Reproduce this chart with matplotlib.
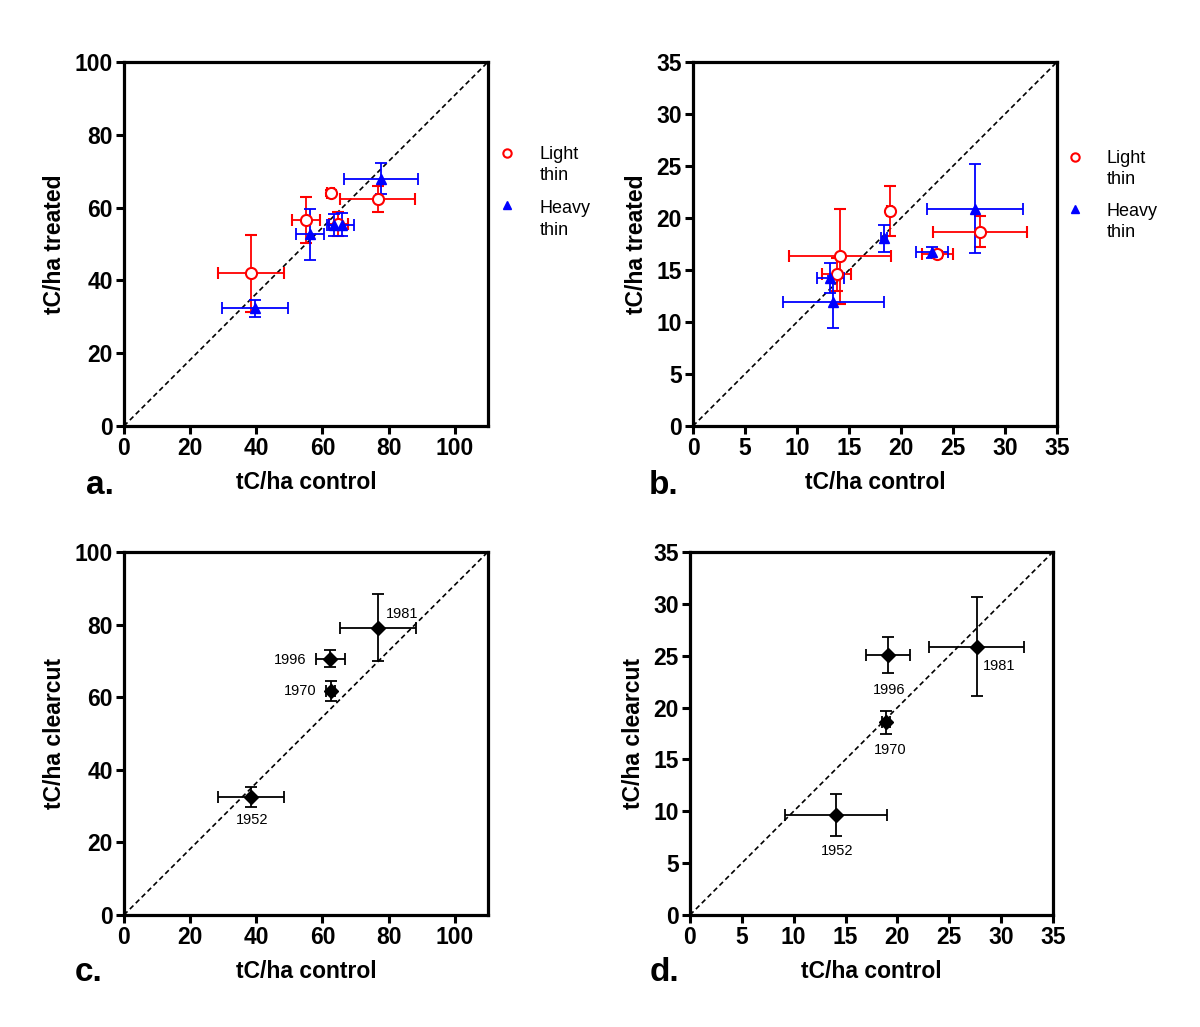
import matplotlib
matplotlib.use('Agg')
import matplotlib.pyplot as plt

plt.rcParams['font.family'] = ['Liberation Sans', 'DejaVu Sans']

# ---- panel a: total carbon, thinning treatments vs control ----
a_light_x = [38.4, 55.0, 62.5, 76.7, 64.8]
a_light_xerr = [10.0, 4.2, 1.0, 11.4, 2.8]
a_light_y = [41.9, 56.6, 64.0, 62.4, 55.5]
a_light_yerr = [10.6, 6.4, 0.8, 3.6, 3.4]

a_heavy_x = [39.7, 56.2, 63.5, 77.7, 65.8]
a_heavy_xerr = [10.0, 4.2, 2.0, 11.2, 3.8]
a_heavy_y = [32.3, 52.7, 55.3, 68.0, 55.3]
a_heavy_yerr = [2.4, 7.0, 3.0, 4.3, 3.2]

# ---- panel b ----
b_light_x = [14.1, 13.8, 18.9, 27.6, 23.5]
b_light_xerr = [4.9, 1.4, 0.2, 4.5, 1.5]
b_light_y = [16.3, 14.6, 20.7, 18.7, 16.5]
b_light_yerr = [4.6, 1.6, 2.4, 1.5, 0.3]

b_heavy_x = [13.5, 13.2, 18.4, 23.0, 27.1]
b_heavy_xerr = [4.85, 1.3, 0.3, 1.55, 4.6]
b_heavy_y = [11.9, 14.2, 18.05, 16.7, 20.9]
b_heavy_yerr = [2.5, 1.45, 1.3, 0.55, 4.3]

# ---- panels c, d: clearcut vs control ----
years = ['1952', '1970', '1981', '1996']

c_x = [38.4, 62.5, 76.8, 62.4]
c_xerr = [10.0, 1.3, 11.4, 4.5]
c_y = [32.6, 61.7, 79.1, 70.6]
c_yerr = [2.75, 2.75, 9.2, 2.4]

d_x = [14.05, 18.87, 27.64, 19.1]
d_xerr = [4.9, 0.4, 4.55, 2.1]
d_y = [9.64, 18.58, 25.87, 25.07]
d_yerr = [2.06, 1.1, 4.74, 1.74]

# label offsets (points) for the year annotations
c_offsets = [(1, -17), (-22, 0), (17, 10), (-29, -1)]
d_offsets = [(1, -26), (3, -20), (16, -14), (1, -25)]

series_labels = ['Light\nthin', 'Heavy\nthin']

fig = plt.figure(figsize=(12, 10.27), dpi=100)

ax_a = fig.add_axes([0.1033, 0.5852, 0.3033, 0.3544])
ax_b = fig.add_axes([0.5775, 0.5852, 0.3033, 0.3544])
ax_c = fig.add_axes([0.1033, 0.1091, 0.3033, 0.3535])
ax_d = fig.add_axes([0.5750, 0.1091, 0.3025, 0.3535])


def style_axes(ax, xmax, ymax, xticks, yticks, ylabel):
    ax.set_xlim(0, xmax)
    ax.set_ylim(0, ymax)
    ax.set_xticks(xticks)
    ax.set_yticks(yticks)
    for s in ax.spines.values():
        s.set_linewidth(2.3)
    ax.tick_params(direction='out', length=6, width=2.2, labelsize=16.5, pad=2)
    for lab in ax.get_xticklabels() + ax.get_yticklabels():
        lab.set_fontweight('bold')
    ax.set_xlabel('tC/ha control', fontsize=16.5, fontweight='bold', labelpad=8)
    ax.set_ylabel(ylabel, fontsize=16.5, fontweight='bold', labelpad=6)
    # reference line through the box diagonal
    ax.plot([0, 1], [0, 1], transform=ax.transAxes, color='black',
            linestyle='--', linewidth=1.2, dashes=(3, 2), zorder=1)


def side_legend(ax, mx, tx, marker_y, text_y):
    # marker + two-line label placed to the right of the axes box
    styles = [dict(marker='o', ms=6, mfc='white', mec='red', mew=1.5),
              dict(marker='^', ms=6, mfc='blue', mec='blue')]
    for st, lab, my, ty in zip(styles, series_labels, marker_y, text_y):
        ax.plot([mx], [my], linestyle='none', transform=ax.transAxes,
                clip_on=False, **st)
        ax.text(tx, ty, lab, transform=ax.transAxes, fontsize=13,
                ha='left', va='center', linespacing=1.35)


eb_kw = dict(linestyle='none', elinewidth=1.3, capsize=4, capthick=1.3, zorder=3)

# panel a
style_axes(ax_a, 110, 100, [0, 20, 40, 60, 80, 100], [0, 20, 40, 60, 80, 100],
           'tC/ha treated')
ax_a.errorbar(a_light_x, a_light_y, xerr=a_light_xerr, yerr=a_light_yerr,
              marker='o', ms=8, mfc='white', mec='red', mew=1.5, ecolor='red', **eb_kw)
ax_a.errorbar(a_heavy_x, a_heavy_y, xerr=a_heavy_xerr, yerr=a_heavy_yerr,
              marker='^', ms=7.5, mfc='blue', mec='blue', ecolor='blue', **eb_kw)
side_legend(ax_a, 1.052, 1.143, [0.750, 0.607], [0.717, 0.568])

# panel b
style_axes(ax_b, 35, 35, range(0, 36, 5), range(0, 36, 5), 'tC/ha treated')
ax_b.errorbar(b_light_x, b_light_y, xerr=b_light_xerr, yerr=b_light_yerr,
              marker='o', ms=8, mfc='white', mec='red', mew=1.5, ecolor='red', **eb_kw)
ax_b.errorbar(b_heavy_x, b_heavy_y, xerr=b_heavy_xerr, yerr=b_heavy_yerr,
              marker='^', ms=7.5, mfc='blue', mec='blue', ecolor='blue', **eb_kw)
side_legend(ax_b, 1.049, 1.137, [0.738, 0.596], [0.706, 0.561])

# panel c
style_axes(ax_c, 110, 100, [0, 20, 40, 60, 80, 100], [0, 20, 40, 60, 80, 100],
           'tC/ha clearcut')
ax_c.errorbar(c_x, c_y, xerr=c_xerr, yerr=c_yerr, marker='D', ms=7,
              color='black', ecolor='black', **eb_kw)
for x, y, yr, off in zip(c_x, c_y, years, c_offsets):
    ax_c.annotate(yr, (x, y), xytext=off, textcoords='offset points',
                  ha='center', va='center', fontsize=10.5)

# panel d
style_axes(ax_d, 35, 35, range(0, 36, 5), range(0, 36, 5), 'tC/ha clearcut')
ax_d.errorbar(d_x, d_y, xerr=d_xerr, yerr=d_yerr, marker='D', ms=7,
              color='black', ecolor='black', **eb_kw)
for x, y, yr, off in zip(d_x, d_y, years, d_offsets):
    ax_d.annotate(yr, (x, y), xytext=off, textcoords='offset points',
                  ha='center', va='center', fontsize=10.5)

# panel letters
for txt, x, y in [('a.', 0.072, 0.527), ('b.', 0.541, 0.527),
                  ('c.', 0.062, 0.053), ('d.', 0.541, 0.053)]:
    fig.text(x, y, txt, fontsize=24, fontweight='bold', ha='left', va='center')

fig.savefig('out.png', dpi=100)
